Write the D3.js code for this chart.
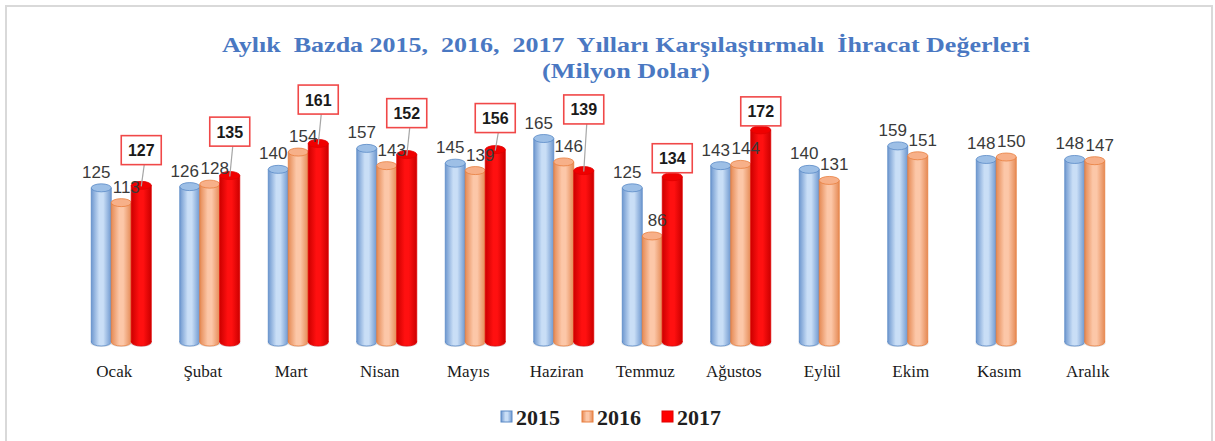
<!DOCTYPE html>
<html>
<head>
<meta charset="utf-8">
<script src="https://cdn.jsdelivr.net/npm/d3@7"></script>
<style>
  body { margin: 0; background: #fff; }
  text { white-space: pre; }
</style>
</head>
<body>
<script>
// aylık ihracat karşılaştırma grafiği
var months = ["Ocak", "Şubat", "Mart", "Nisan", "Mayıs", "Haziran", "Temmuz", "Ağustos", "Eylül", "Ekim", "Kasım", "Aralık"];
var years = ["2015", "2016", "2017"];
var v2015 = [125, 126, 140, 157, 145, 165, 125, 143, 140, 159, 148, 148];
var v2016 = [113, 128, 154, 143, 139, 146, 86, 144, 131, 151, 150, 147];
var v2017 = [127, 135, 161, 152, 156, 139, 134, 172];
var titleLines = ["Aylık  Bazda 2015,  2016,  2017  Yılları Karşılaştırmalı  İhracat Değerleri", "(Milyon Dolar)"];

var W = 1215, H = 441;
var series = [v2015, v2016, v2017];

// renkler: kenar, orta, çizgi, üst kapak
var pal = [
    { edge: "#6f98cf", mid: "#c9def6", line: "#5b8ac6", cap: "#9dbfe6" },
    { edge: "#e58a55", mid: "#fcc7a8", line: "#e97f3f", cap: "#f7b089" },
    { edge: "#cc0000", mid: "#ff1010", line: "#e00000", cap: "#f00000" }
];

var svg = d3.select("body").append("svg")
    .attr("width", W)
    .attr("height", H);

svg.append("rect")  // çerçeve
    .attr("x", 6).attr("y", 6)
    .attr("width", 1206).attr("height", 440)
    .attr("fill", "#fff")
    .attr("stroke", "#d9d9d9")
    .attr("stroke-width", 2);

var defs = svg.append("defs");
pal.forEach(function (p, i) {
    var g = defs.append("linearGradient").attr("id", "grad" + i)
        .attr("x1", "0%").attr("x2", "100%").attr("y1", "0%").attr("y2", "0%");
    g.append("stop").attr("offset", "0%").attr("stop-color", p.edge);
    g.append("stop").attr("offset", "40%").attr("stop-color", p.mid);
    g.append("stop").attr("offset", "60%").attr("stop-color", p.mid);
    g.append("stop").attr("offset", "100%").attr("stop-color", p.edge);
});

var x = d3.scaleBand().domain(months).range([70, 1132]);
var xs = d3.scaleBand().domain(years).range([-23, 37]);
var y = d3.scaleLinear().domain([0, 180]).range([342, 120]);
var ry = 4;

// başlık
var titleLen = [808, 168];
svg.selectAll(".title")
    .data(titleLines)
    .enter()
    .append("text")
    .attr("class", "title")
    .attr("x", 626)
    .attr("y", function (d, i) { return 52 + i * 26; })
    .attr("text-anchor", "middle")
    .attr("font-family", "Liberation Serif")
    .attr("font-weight", "bold")
    .attr("font-size", 22)
    .attr("textLength", function (d, i) { return titleLen[i]; })
    .attr("lengthAdjust", "spacingAndGlyphs")
    .attr("fill", "#4a78c2")
    .text(function (d) { return d; });

// silindirler
var layer = svg.append("g");
series.forEach(function (vals, s) {
    var p = pal[s];
    vals.forEach(function (v, i) {
        var cx = x(months[i]) + x.bandwidth() / 2 + xs(years[s]);
        var w = xs.bandwidth();
        var g = layer.append("g");
        g.append("ellipse")  // alt gölge
            .attr("cx", cx + w / 2).attr("cy", y(0) + 1)
            .attr("rx", w / 2 + 1).attr("ry", ry)
            .attr("fill", "#c8cdd6").attr("opacity", 0.5);
        g.append("ellipse")
            .attr("cx", cx + w / 2).attr("cy", y(0))
            .attr("rx", w / 2).attr("ry", ry)
            .attr("fill", "url(#grad" + s + ")")
            .attr("stroke", p.line).attr("stroke-width", 0.8);
        g.append("rect")
            .attr("x", cx).attr("y", y(v))
            .attr("width", w).attr("height", y(0) - y(v))
            .attr("fill", "url(#grad" + s + ")");
        g.append("line")
            .attr("x1", cx).attr("x2", cx).attr("y1", y(v)).attr("y2", y(0))
            .attr("stroke", p.line).attr("stroke-width", 0.8);
        g.append("line")
            .attr("x1", cx + w).attr("x2", cx + w).attr("y1", y(v)).attr("y2", y(0))
            .attr("stroke", p.line).attr("stroke-width", 0.8);
        g.append("ellipse")  // üst kapak
            .attr("cx", cx + w / 2).attr("cy", y(v))
            .attr("rx", w / 2).attr("ry", ry)
            .attr("fill", p.cap)
            .attr("stroke", p.line).attr("stroke-width", 0.8);
    });
});

// 2015 ve 2016 etiketleri
var labOff = [-5, 5];
[v2015, v2016].forEach(function (vals, s) {
    svg.append("g").selectAll("text")
        .data(vals)
        .enter()
        .append("text")
        .attr("x", function (d, i) { return x(months[i]) + x.bandwidth() / 2 + xs(years[s]) + xs.bandwidth() / 2 + labOff[s]; })
        .attr("y", function (d) { return y(d) - 10; })
        .attr("text-anchor", "middle")
        .attr("font-family", "Liberation Sans")
        .attr("font-size", 17)
        .attr("fill", "#3a3a3a")
        .text(function (d) { return d; });
});

// 2017 etiketleri (kutulu)
var boxW = 40, boxH = 29;
var g17 = svg.append("g");
v2017.forEach(function (v, i) {
    var cx = x(months[i]) + x.bandwidth() / 2 + xs("2017") + xs.bandwidth() / 2;
    var top = y(v);
    var bottom = Math.min(top - 4, y(v2016[i]) - 38);
    if (bottom < top - 8) {
        g17.append("line")  // kılavuz çizgi
            .attr("x1", cx + 3).attr("y1", bottom)
            .attr("x2", cx).attr("y2", top + 1)
            .attr("stroke", "#a6a6a6").attr("stroke-width", 1.2);
    }
    g17.append("rect")
        .attr("x", cx - boxW / 2).attr("y", bottom - boxH)
        .attr("width", boxW).attr("height", boxH)
        .attr("fill", "#fff")
        .attr("stroke", "#f04848").attr("stroke-width", 1.6);
    g17.append("text")
        .attr("x", cx).attr("y", bottom - boxH / 2 + 6)
        .attr("text-anchor", "middle")
        .attr("font-family", "Liberation Sans")
        .attr("font-weight", "bold")
        .attr("font-size", 16)
        .attr("fill", "#1a1a1a")
        .text(v);
});

// ay etiketleri
var xAxis = svg.append("g")
    .attr("transform", "translate(0,377)")
    .call(d3.axisBottom(x).tickSize(0).tickPadding(0));
xAxis.select(".domain").remove();
xAxis.selectAll("text")
    .attr("dy", 0)
    .attr("font-family", "Liberation Serif")
    .attr("font-size", 17)
    .attr("fill", "#1a1a1a");

// lejant
var legX = [501, 582, 662];
var leg = svg.append("g").selectAll("g")
    .data(years)
    .enter()
    .append("g")
    .attr("transform", function (d, i) { return "translate(" + legX[i] + ",411)"; });
leg.append("rect")
    .attr("width", 11).attr("height", 11)
    .attr("fill", function (d, i) { return i == 2 ? "#ff0000" : "url(#grad" + i + ")"; })
    .attr("stroke", function (d, i) { return pal[i].line; })
    .attr("stroke-width", 1);
leg.append("text")
    .attr("x", 15).attr("y", 14)
    .attr("font-family", "Liberation Serif")
    .attr("font-weight", "bold")
    .attr("font-size", 22)
    .attr("fill", "#1f1f1f")
    .text(function (d) { return d; });
</script>
</body>
</html>
